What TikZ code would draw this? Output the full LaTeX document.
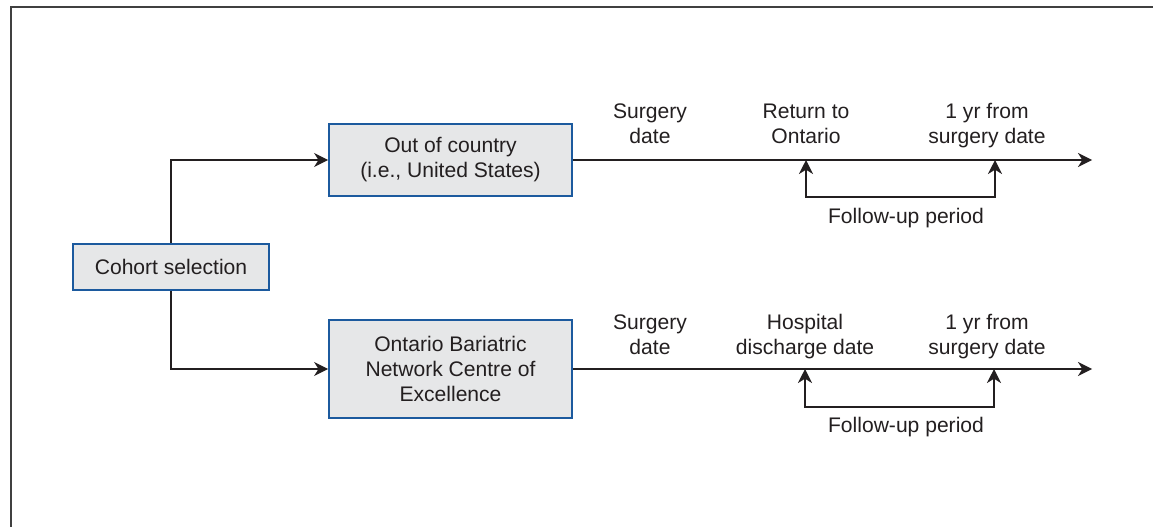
\documentclass[tikz,border=0pt]{standalone}
\usepackage{fontspec}
\setmainfont{Liberation Sans}
\usetikzlibrary{arrows.meta}
\definecolor{boxblue}{RGB}{28,90,158}
\definecolor{boxgray}{RGB}{230,231,232}
\definecolor{inkblack}{RGB}{35,31,32}
\tikzset{
	stagebox/.style={draw=boxblue, fill=boxgray, line width=1pt, align=center, inner sep=0pt},
	timelabel/.style={align=center, inner sep=0pt},
	flow/.style={-{Stealth[length=8pt, width=8pt, inset=2.5pt]}, line width=0.8pt, inkblack},
	bracket/.style={{Stealth[length=8pt, width=8pt, inset=2.5pt]}-{Stealth[length=8pt, width=8pt, inset=2.5pt]}, line width=0.9pt, inkblack}
}
\begin{document}
\begin{tikzpicture}[x=0.02cm, y=-0.02cm, every node/.style={font=\fontsize{12}{14.2}\selectfont, text=inkblack}]
		\useasboundingbox (0,0) rectangle (1153,527);
		\draw[line width=1.1pt, black!75] (11,527) -- (11,7) -- (1153,7);
		% boxes
		\node[stagebox, minimum width=3.92cm, minimum height=0.92cm] at (171,267) (cohort) {Cohort selection};
		\node[stagebox, minimum width=4.86cm, minimum height=1.44cm] at (450.5,160) (abroad) {Out of country\\(i.e., United States)};
		\node[stagebox, minimum width=4.86cm, minimum height=1.96cm] at (450.5,369) (obn) {Ontario Bariatric\\Network Centre of\\Excellence};
		\draw[flow] (cohort.north) |- (abroad.west);
		\draw[flow] (cohort.south) |- (obn.west);
		% upper timeline
		\coordinate (endA) at (1092,160);
		\coordinate (retA) at (806,160);
		\coordinate (yrA) at (995,160);
		\node[timelabel] at (650,124) (surgA) {Surgery\\date};
		\node[timelabel] at (806,124) (returnA) {Return to\\Ontario};
		\node[timelabel] at (987,126) (oneyrA) {1 yr from\\surgery date};
		\node[timelabel] at (906,218) (followA) {Follow-up period};
		\draw[flow] (abroad.east) -- (endA);
		\draw[bracket] (retA) -- ++(0,37) -| (yrA);
		% lower timeline
		\coordinate (endB) at (1092,369);
		\coordinate (disB) at (805,369);
		\coordinate (yrB) at (994,369);
		\node[timelabel] at (650,335) (surgB) {Surgery\\date};
		\node[timelabel] at (805,337) (dischB) {Hospital\\discharge date};
		\node[timelabel] at (987,337) (oneyrB) {1 yr from\\surgery date};
		\node[timelabel] at (906,427) (followB) {Follow-up period};
		\draw[flow] (obn.east) -- (endB);
		\draw[bracket] (disB) -- ++(0,38) -| (yrB);
\end{tikzpicture}
\end{document}
